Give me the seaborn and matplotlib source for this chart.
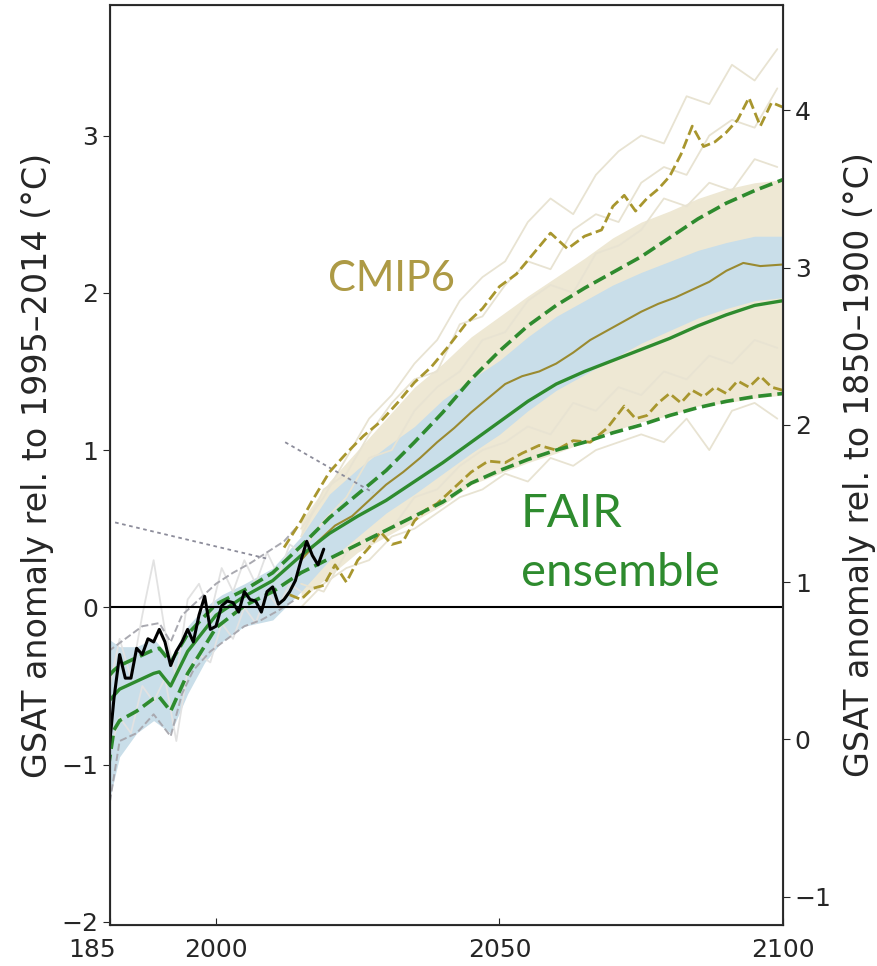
import pandas as pd
import seaborn as sns
import matplotlib.pyplot as plt

# ---------------- data ----------------
# observed GSAT (black)
obs_years = list(range(1981, 2020))
obs_gsat = [-0.96, -0.58, -0.30, -0.45, -0.45, -0.26, -0.30, -0.20, -0.22, -0.14,
            -0.22, -0.37, -0.28, -0.22, -0.14, -0.22, -0.05, 0.07, -0.14, -0.12,
            0.01, 0.04, 0.03, -0.03, 0.10, 0.05, 0.04, -0.03, 0.10, 0.13,
            0.02, 0.05, 0.10, 0.17, 0.30, 0.42, 0.33, 0.27, 0.37]

# FAIR ensemble median and 5-95% range (green)
fair_years = [1981, 1982, 1983, 1986, 1989, 1990, 1992, 1995, 2000, 2005, 2010, 2015,
              2020, 2025, 2030, 2035, 2040, 2045, 2050, 2055, 2060, 2065, 2070, 2075,
              2080, 2085, 2090, 2095, 2100]
fair_median = [-0.60, -0.56, -0.52, -0.47, -0.42, -0.41, -0.50, -0.28, -0.05, 0.07, 0.17, 0.33,
               0.47, 0.58, 0.68, 0.80, 0.92, 1.05, 1.18, 1.31, 1.42, 1.50, 1.57, 1.64,
               1.71, 1.79, 1.86, 1.92, 1.95]
fair_upper = [-0.44, -0.40, -0.37, -0.32, -0.27, -0.26, -0.35, -0.17, 0.02, 0.11, 0.22, 0.39,
              0.57, 0.72, 0.87, 1.05, 1.24, 1.45, 1.63, 1.79, 1.92, 2.03, 2.13, 2.23,
              2.35, 2.47, 2.57, 2.65, 2.72]
fair_lower = [-1.02, -0.78, -0.72, -0.66, -0.58, -0.57, -0.66, -0.42, -0.13, 0.01, 0.10, 0.22,
              0.31, 0.40, 0.49, 0.58, 0.67, 0.79, 0.87, 0.94, 1.00, 1.05, 1.11, 1.16,
              1.22, 1.27, 1.31, 1.34, 1.36]

# blue band
band_years = [1981, 1983, 1986, 1989, 1992, 1995, 1998, 2001, 2005, 2010, 2015, 2020,
              2025, 2030, 2035, 2040, 2045, 2050, 2055, 2060, 2065, 2070, 2075, 2080,
              2085, 2090, 2095, 2100]
band_low = [-1.25, -0.95, -0.80, -0.72, -0.80, -0.55, -0.35, -0.22, -0.12, -0.08, 0.10, 0.30,
            0.45, 0.60, 0.72, 0.85, 0.98, 1.10, 1.25, 1.38, 1.48, 1.58, 1.68, 1.76,
            1.84, 1.90, 1.95, 1.97]
band_high = [-0.20, -0.25, -0.25, -0.20, -0.32, -0.12, 0.00, 0.08, 0.15, 0.25, 0.45, 0.72,
             0.88, 1.02, 1.15, 1.32, 1.45, 1.57, 1.72, 1.85, 1.95, 2.05, 2.13, 2.20,
             2.27, 2.32, 2.36, 2.36]

# CMIP6 mean (olive solid)
cmip_mean_years = [2015, 2018, 2021, 2024, 2027, 2030, 2033, 2036, 2039, 2042, 2045, 2048,
                   2051, 2054, 2057, 2060, 2063, 2066, 2069, 2072, 2075, 2078, 2081, 2084,
                   2087, 2090, 2093, 2096, 2100]
cmip_mean = [0.30, 0.42, 0.52, 0.58, 0.68, 0.78, 0.86, 0.95, 1.05, 1.14, 1.24, 1.33,
             1.42, 1.47, 1.50, 1.55, 1.62, 1.70, 1.76, 1.82, 1.88, 1.93, 1.97, 2.02,
             2.07, 2.14, 2.19, 2.17, 2.18]

# CMIP6 5-95% (olive dashed)
cmip_up_years = [2012, 2015, 2017, 2020, 2023, 2026, 2029, 2032, 2035, 2038,
                 2041, 2044, 2047, 2050, 2053, 2056, 2059, 2062, 2065, 2068,
                 2070, 2072, 2074, 2076, 2078, 2080, 2082, 2084, 2086, 2088,
                 2090, 2092, 2094, 2096, 2098, 2100]
cmip_upper = [0.38, 0.55, 0.68, 0.86, 0.98, 1.09, 1.18, 1.30, 1.43, 1.53,
              1.66, 1.80, 1.90, 2.04, 2.12, 2.25, 2.38, 2.28, 2.36, 2.40,
              2.55, 2.62, 2.52, 2.60, 2.66, 2.74, 2.88, 3.06, 2.93, 2.96,
              3.02, 3.10, 3.24, 3.06, 3.21, 3.18]
cmip_lo_years = [2013, 2015, 2017, 2019, 2021, 2023, 2025, 2027, 2029, 2031,
                 2033, 2035, 2037, 2039, 2042, 2045, 2048, 2051, 2054, 2057,
                 2060, 2063, 2066, 2069, 2072, 2074, 2076, 2078, 2080, 2082,
                 2084, 2086, 2088, 2090, 2092, 2094, 2096, 2098, 2100]
cmip_lower = [0.08, 0.05, 0.12, 0.14, 0.27, 0.16, 0.30, 0.38, 0.48, 0.40,
              0.42, 0.55, 0.62, 0.66, 0.76, 0.86, 0.93, 0.92, 0.98, 1.03,
              1.00, 1.06, 1.05, 1.14, 1.28, 1.20, 1.22, 1.30, 1.36, 1.30,
              1.38, 1.34, 1.40, 1.36, 1.44, 1.40, 1.47, 1.40, 1.38]

# CMIP6 individual runs: dense spread and a few faint members
spread_years = [2015, 2020, 2025, 2030, 2035, 2040, 2045, 2050, 2055, 2060,
                2065, 2070, 2075, 2080, 2085, 2090, 2095, 2100]
spread_low = [0.05, 0.20, 0.35, 0.45, 0.55, 0.65, 0.78, 0.85, 0.92, 0.98,
              1.05, 1.12, 1.18, 1.22, 1.28, 1.30, 1.33, 1.35]
spread_high = [0.55, 0.80, 1.00, 1.20, 1.40, 1.55, 1.72, 1.85, 1.98, 2.10,
               2.22, 2.35, 2.45, 2.52, 2.60, 2.66, 2.70, 2.72]
member_years = [2015, 2019, 2023, 2027, 2031, 2035, 2039, 2043, 2047, 2051, 2055,
                2059, 2063, 2067, 2071, 2075, 2079, 2083, 2087, 2091, 2095, 2099]
member_a = [0.50, 0.70, 0.95, 1.20, 1.35, 1.55, 1.70, 1.95, 2.10, 2.20, 2.45,
            2.60, 2.50, 2.75, 2.90, 3.00, 2.95, 3.25, 3.20, 3.45, 3.35, 3.55]
member_b = [0.45, 0.75, 0.85, 1.10, 1.30, 1.45, 1.50, 1.80, 1.85, 2.05, 2.20,
            2.15, 2.40, 2.50, 2.45, 2.70, 2.80, 2.75, 3.00, 3.10, 3.05, 3.30]
member_c = [0.00, 0.15, 0.25, 0.30, 0.45, 0.50, 0.60, 0.70, 0.75, 0.85, 0.80,
            0.95, 0.90, 1.00, 1.05, 1.10, 1.05, 1.20, 1.00, 1.25, 1.30, 1.20]
member_d = [0.15, 0.10, 0.35, 0.45, 0.50, 0.70, 0.75, 0.90, 1.00, 1.05, 1.15,
            1.10, 1.30, 1.25, 1.40, 1.35, 1.50, 1.45, 1.60, 1.55, 1.70, 1.65]
member_e = [0.35, 0.55, 0.70, 0.95, 1.00, 1.25, 1.40, 1.50, 1.70, 1.75, 1.95,
            2.05, 2.00, 2.25, 2.30, 2.40, 2.60, 2.55, 2.70, 2.65, 2.85, 2.80]

# CMIP6 historical members (grey) and range (grey dashed)
hist_years = [1981, 1983, 1985, 1987, 1989, 1991, 1993, 1995, 1997, 1999,
              2001, 2003, 2005, 2007, 2009, 2011, 2013, 2015]
hist_a = [-0.55, -0.20, -0.45, -0.05, 0.30, -0.15, -0.45, 0.05, 0.15, -0.05,
          0.25, 0.10, 0.30, 0.15, 0.35, 0.20, 0.40, 0.35]
hist_b = [-0.95, -0.70, -0.80, -0.50, -0.60, -0.45, -0.85, -0.40, -0.30, -0.35,
          -0.10, -0.20, 0.00, -0.10, 0.10, 0.00, 0.15, 0.10]
hrange_up_years = [1981, 1984, 1987, 1990, 1992, 1994, 1997, 2000, 2003, 2006, 2009, 2012, 2014]
hrange_upper = [-0.28, -0.20, -0.12, -0.10, -0.22, -0.05, 0.05, 0.15, 0.22, 0.28, 0.35, 0.42, 0.50]
hrange_lo_years = [1981, 1983, 1986, 1989, 1992, 1994, 1996, 1999, 2002, 2005, 2008, 2011, 2014]
hrange_lower = [-1.30, -0.85, -0.80, -0.68, -0.82, -0.55, -0.40, -0.28, -0.20, -0.12, -0.08, -0.02, 0.05]

# leader lines (dotted grey)
lead1_x, lead1_y = [1982.2, 2009.0], [0.54, 0.31]
lead2_x, lead2_y = [2012.2, 2027.7], [1.05, 0.73]

x_range = (1981.3, 2100)
y_range = (-2.02, 3.83)
offset_1850 = 0.84

# ---------------- plot ----------------
sns.set_style("ticks")
plt.rcParams['font.family'] = ['DejaVu Sans']

green = '#2e8b2e'
olive = '#a8962e'
beige = '#eee8d4'

fig = plt.figure(figsize=(8.77, 9.66), dpi=100)
ax = fig.add_axes([0.1254, 0.0424, 0.7674, 0.9524])

ax.fill_between(spread_years, spread_low, spread_high, color=beige, lw=0)
for m in [member_a, member_b, member_c, member_d, member_e]:
    sns.lineplot(x=member_years, y=m, ax=ax, color='#e8e3d2', lw=1.3)
for m in [hist_a, hist_b]:
    sns.lineplot(x=hist_years, y=m, ax=ax, color='#e2e2e2', lw=1.3)

ax.fill_between(band_years, band_low, band_high, color='#c9dee9', lw=0)

sns.lineplot(x=hrange_up_years, y=hrange_upper, ax=ax, color='#a9a9b0', lw=1.4, ls='--')
sns.lineplot(x=hrange_lo_years, y=hrange_lower, ax=ax, color='#a9a9b0', lw=1.4, ls='--')

sns.lineplot(x=lead1_x, y=lead1_y, ax=ax, color='#8c8c9a', lw=1.3, ls=(0, (2, 2)))
sns.lineplot(x=lead2_x, y=lead2_y, ax=ax, color='#8c8c9a', lw=1.3, ls=(0, (2, 2)))

sns.lineplot(x=cmip_up_years, y=cmip_upper, ax=ax, color=olive, lw=2.0, ls='--')
sns.lineplot(x=cmip_lo_years, y=cmip_lower, ax=ax, color=olive, lw=2.0, ls='--')
sns.lineplot(x=cmip_mean_years, y=cmip_mean, ax=ax, color='#9a8a30', lw=1.5)

sns.lineplot(x=fair_years, y=fair_upper, ax=ax, color=green, lw=2.6, ls='--')
sns.lineplot(x=fair_years, y=fair_lower, ax=ax, color=green, lw=2.6, ls='--')
sns.lineplot(x=fair_years, y=fair_median, ax=ax, color=green, lw=2.4)

ax.axhline(0, color='black', lw=1.5)
sns.lineplot(x=obs_years, y=obs_gsat, ax=ax, color='black', lw=2.2)

ax.set_xlim(*x_range)
ax.set_ylim(*y_range)
ax.set_xticks([x_range[0], 2000, 2050, 2100])
ax.set_xticklabels(['', '2000', '2050', '2100'])
# truncated first year label at the left edge
ax.annotate('185', xy=(x_range[0], 0), xycoords=('data', 'axes fraction'),
            xytext=(4, -9.5), textcoords='offset points', ha='right', va='top',
            fontsize=18, color='#262626')
ax.set_yticks([-2, -1, 0, 1, 2, 3])
ax.tick_params(axis='x', direction='in', labelsize=18, pad=9, length=5)
ax.tick_params(axis='y', direction='out', labelsize=18, length=5)
ax.set_xlabel('')
ax.set_ylabel('GSAT anomaly rel. to 1995–2014 (°C)', fontsize=24, labelpad=5)
for s in ax.spines.values():
    s.set_visible(True)
    s.set_color('#333333')
    s.set_linewidth(1.5)

ax2 = ax.twinx()
ax2.set_ylim(y_range[0] + offset_1850, y_range[1] + offset_1850)
ax2.set_yticks([-1, 0, 1, 2, 3, 4])
ax2.tick_params(axis='y', direction='out', labelsize=18, length=5)
ax2.set_ylabel('GSAT anomaly rel. to 1850–1900 (°C)', fontsize=24, labelpad=8)

ax.text(2030.9, 2.09, 'CMIP6', color='#ad9a45', fontsize=30, family=['Lato', 'DejaVu Sans'],
        ha='center', va='center')
ax.text(2053.8, 0.73, 'FAIR\nensemble', color='#2e8b2e', fontsize=34, family=['Lato', 'DejaVu Sans'],
        ha='left', va='top', linespacing=1.5)

fig.savefig('out.png', dpi=100)
